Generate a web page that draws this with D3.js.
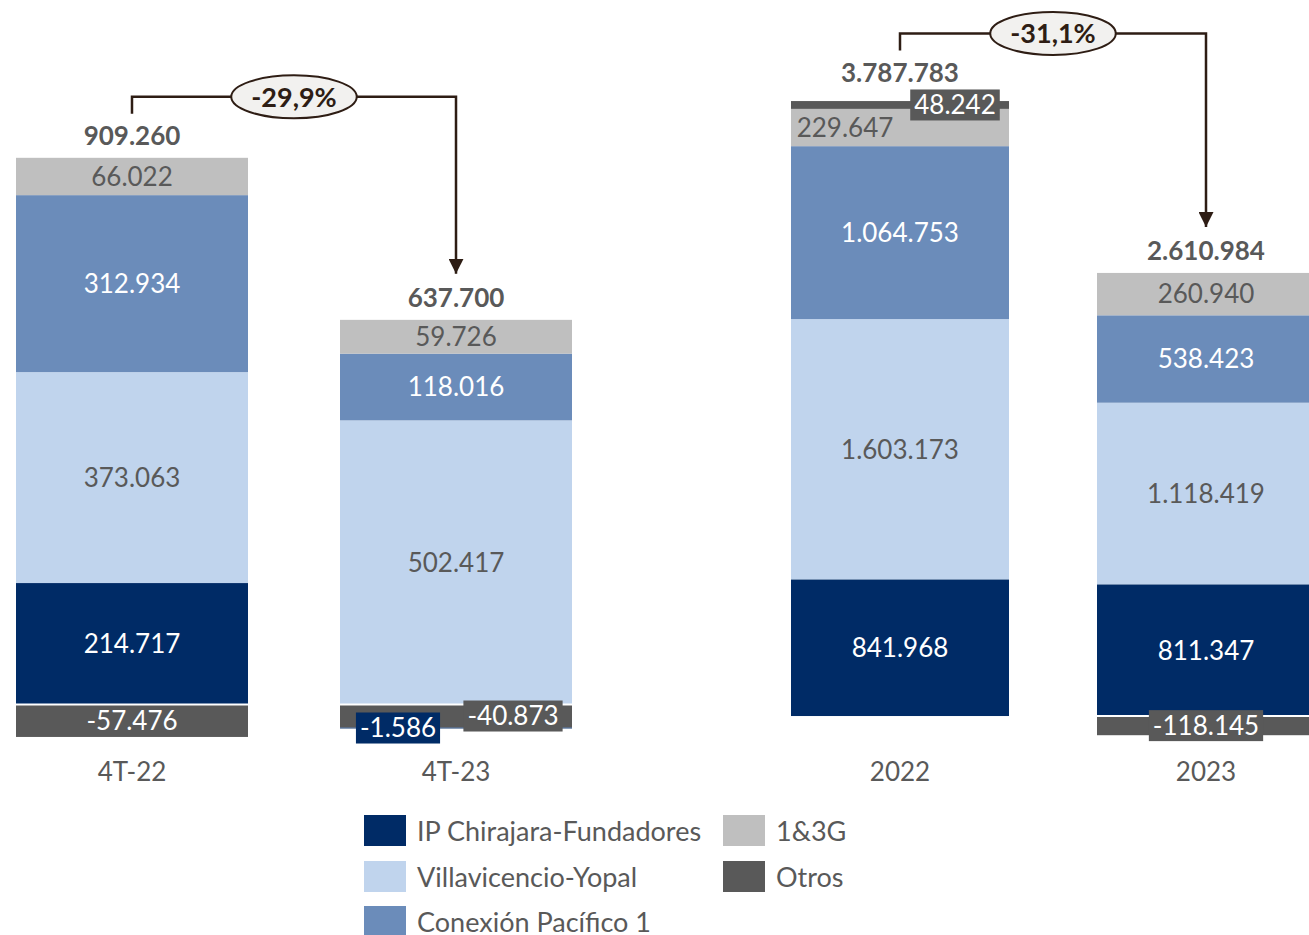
<!DOCTYPE html>
<html>
<head>
<meta charset="utf-8">
<title>Ingresos por concesión</title>
<script type="text/javascript" src="https://d3js.org/d3.v7.js"></script>
<style>
    * { margin: 0; padding: 0; }
    body { background: #fff; }
    #chart-container { width: 1309px; height: 935px; }
    text { font-family: Lato, Carlito, Calibri, sans-serif; }
</style>
</head>
<body>
    <div id="chart-container"></div>

    <script type="text/javascript">

        // datos
        const categories = ["4T-22", "4T-23", "2022", "2023"];
        const quarterCats = ["4T-22", "4T-23"];
        const yearCats = ["2022", "2023"];
        const seriesNames = ["IP Chirajara-Fundadores", "Villavicencio-Yopal", "Conexión Pacífico 1", "1&3G", "Otros"];

        const ipChirajara   = [214717, -1586, 841968, 811347];
        const villavicencio = [373063, 502417, 1603173, 1118419];
        const conexion      = [312934, 118016, 1064753, 538423];
        const unoTresG      = [66022, 59726, 229647, 260940];
        const otros         = [-57476, -40873, 48242, -118145];

        const variations = [
            { from: "4T-22", to: "4T-23", label: "-29,9%" },
            { from: "2022", to: "2023", label: "-31,1%" }
        ];

        const seriesValues = [ipChirajara, villavicencio, conexion, unoTresG, otros];

        // estilos
        const colors = ["#002b66", "#c0d4ed", "#6b8cba", "#bfbfbf", "#595959"];
        const labelColors = ["#ffffff", "#595959", "#ffffff", "#595959", "#ffffff"];
        const textGray = "#595959";
        const arrowColor = "#2e1d14";

        // desplazamientos manuales de etiquetas (como en el original)
        const labelShift = {
            "2022|3": -55,
            "2022|4": 55,
            "4T-23|4": 57,
            "4T-23|0": -58
        };

        const fmt = d3.formatLocale({ decimal: ",", thousands: ".", grouping: [3], currency: ["", ""], minus: "-" }).format(",d");

        const width = 1309, height = 935;

        const svg = d3.select("#chart-container")
            .append("svg")
            .attr("width", width)
            .attr("height", height)
            .attr("viewBox", `0 0 ${width} ${height}`);

        // escalas: trimestre y año tienen ejes propios
        const xQ = d3.scaleBand().domain(quarterCats).range([16, 572]).paddingInner(0.284).paddingOuter(0);
        const xA = d3.scaleBand().domain(yearCats).range([791, 1315]).paddingInner(0.2876).paddingOuter(0);
        const yQ = d3.scaleLinear().domain([-100000, 1000000]).range([761, 139]);
        const yA = d3.scaleLinear().domain([-200000, 4000000]).range([748.5, 66.6]);

        const xOf = c => quarterCats.includes(c) ? xQ : xA;
        const yOf = c => quarterCats.includes(c) ? yQ : yA;

        // apilado: positivos hacia arriba en orden, negativos hacia abajo en orden inverso
        const segments = [];
        const stackInfo = {};
        categories.forEach((cat, ci) => {
            let pos = 0, neg = 0;
            seriesNames.forEach((s, si) => {
                const v = seriesValues[si][ci];
                if (v >= 0) { segments.push({ cat, si, v, y0: pos, y1: pos + v }); pos += v; }
            });
            for (let si = seriesNames.length - 1; si >= 0; si--) {
                const v = seriesValues[si][ci];
                if (v < 0) { segments.push({ cat, si, v, y0: neg, y1: neg + v }); neg += v; }
            }
            stackInfo[cat] = { pos, neg, total: d3.sum(seriesValues, arr => arr[ci]) };
        });

        // barras
        svg.append("g").selectAll("rect")
            .data(segments)
            .join("rect")
            .attr("x", d => xOf(d.cat)(d.cat))
            .attr("width", d => xOf(d.cat).bandwidth())
            .attr("y", d => Math.min(yOf(d.cat)(d.y0), yOf(d.cat)(d.y1)))
            .attr("height", d => Math.abs(yOf(d.cat)(d.y0) - yOf(d.cat)(d.y1)))
            .attr("fill", d => colors[d.si]);

        // línea blanca en el cero donde hay negativos
        svg.append("g").selectAll("line")
            .data(categories.filter(c => stackInfo[c].neg < 0))
            .join("line")
            .attr("x1", c => xOf(c)(c))
            .attr("x2", c => xOf(c)(c) + xOf(c).bandwidth())
            .attr("y1", c => yOf(c)(0))
            .attr("y2", c => yOf(c)(0))
            .attr("stroke", "#fff")
            .attr("stroke-width", 2);

        // etiquetas de valores
        const boxTops = {};
        const labels = svg.append("g");
        segments.forEach(d => {
            const x = xOf(d.cat), y = yOf(d.cat);
            const cx = x(d.cat) + x.bandwidth() / 2 + (labelShift[d.cat + "|" + d.si] || 0);
            const cy = (y(d.y0) + y(d.y1)) / 2;
            const h = Math.abs(y(d.y0) - y(d.y1));
            const g = labels.append("g");
            const t = g.append("text")
                .attr("x", cx)
                .attr("y", cy)
                .attr("dy", "0.36em")
                .attr("text-anchor", "middle")
                .attr("font-size", 26)
                .attr("fill", labelColors[d.si])
                .text(fmt(d.v));
            if (h < 30) {
                const bb = t.node().getBBox();
                g.insert("rect", "text")
                    .attr("x", bb.x - 4)
                    .attr("y", cy - 15.5)
                    .attr("width", bb.width + 8)
                    .attr("height", 31)
                    .attr("fill", colors[d.si]);
                if (d.v > 0) boxTops[d.cat] = cy - 15.5;
            }
        });

        // totales
        const totalY = {};
        categories.forEach(c => {
            const top = yOf(c)(stackInfo[c].pos) - 22;
            totalY[c] = boxTops[c] !== undefined ? Math.min(top, boxTops[c] - 17) : top;
        });
        svg.append("g").selectAll("text")
            .data(categories)
            .join("text")
            .attr("x", c => xOf(c)(c) + xOf(c).bandwidth() / 2)
            .attr("y", c => totalY[c])
            .attr("dy", "0.36em")
            .attr("text-anchor", "middle")
            .attr("font-size", 26)
            .attr("font-weight", "bold")
            .attr("fill", textGray)
            .text(c => fmt(stackInfo[c].total));

        // ejes de categorías
        [xQ, xA].forEach(x => {
            const ax = svg.append("g")
                .attr("transform", "translate(0,753)")
                .call(d3.axisBottom(x).tickSize(0).tickPadding(10));
            ax.select(".domain").remove();
            ax.selectAll("text")
                .attr("font-size", 26)
                .attr("font-family", "Lato, Carlito, Calibri, sans-serif")
                .attr("fill", textGray);
        });

        // flechas de variación
        const defs = svg.append("defs");
        defs.append("marker")
            .attr("id", "arrowhead")
            .attr("viewBox", "0 0 10 10")
            .attr("refX", 10).attr("refY", 5)
            .attr("markerWidth", 6).attr("markerHeight", 6)
            .attr("markerUnits", "strokeWidth")
            .attr("orient", "auto")
            .append("path")
            .attr("d", "M0,0 L10,5 L0,10 Z")
            .attr("fill", arrowColor);

        variations.forEach(v => {
            const x1 = xOf(v.from)(v.from) + xOf(v.from).bandwidth() / 2;
            const x2 = xOf(v.to)(v.to) + xOf(v.to).bandwidth() / 2;
            const yStart = totalY[v.from] - 22;
            const yBracket = totalY[v.from] - 39;
            const yEnd = totalY[v.to] - 24;
            svg.append("path")
                .attr("d", `M${x1},${yStart} V${yBracket} H${x2} V${yEnd}`)
                .attr("fill", "none")
                .attr("stroke", arrowColor)
                .attr("stroke-width", 2.5)
                .attr("marker-end", "url(#arrowhead)");
            const mx = (x1 + x2) / 2;
            const ell = svg.append("ellipse")
                .attr("cx", mx).attr("cy", yBracket)
                .attr("ry", 21.5)
                .attr("fill", "#f2f1ef")
                .attr("stroke", arrowColor)
                .attr("stroke-width", 2);
            const t = svg.append("text")
                .attr("x", mx).attr("y", yBracket)
                .attr("dy", "0.36em")
                .attr("text-anchor", "middle")
                .attr("font-size", 27)
                .attr("font-weight", "bold")
                .attr("fill", arrowColor)
                .text(v.label);
            ell.attr("rx", t.node().getBBox().width / 2 + 20);
        });

        // leyenda
        const legendPos = [[364, 815], [364, 861], [364, 906], [723, 815], [723, 861]];
        const legend = svg.append("g").selectAll("g")
            .data(seriesNames)
            .join("g")
            .attr("transform", (d, i) => `translate(${legendPos[i][0]},${legendPos[i][1]})`);
        legend.append("rect")
            .attr("width", 42).attr("height", 31)
            .attr("fill", (d, i) => colors[i]);
        legend.append("text")
            .attr("x", 53).attr("y", 16)
            .attr("dy", "0.36em")
            .attr("font-size", 27)
            .attr("fill", textGray)
            .text(d => d);
    </script>
</body>
</html>
